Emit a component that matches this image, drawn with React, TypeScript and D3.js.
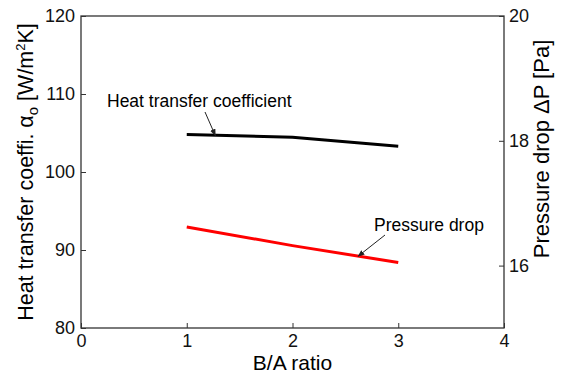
import React, { useRef, useEffect } from "react";
import * as d3 from "d3";

const ratios = [1, 2, 3];
const heatCoeff = [104.8, 104.45, 103.3];
const pressureDrop = [16.62, 16.32, 16.05];
const xTicks = [0, 1, 2, 3, 4];
const leftTicks = [80, 90, 100, 110, 120];
const rightTicks = [16, 18, 20];

const App: React.FC = () => {
  const svg = useRef<SVGSVGElement>(null);
  const width = 566;
  const height = 376;
  const margin = { left: 81, top: 16, right: 62, bottom: 48 };

  useEffect(() => {
    const s = d3.select(svg.current);
    s.selectAll("*").remove();
    const font = "Liberation Sans, Arial, sans-serif";

    const x = d3.scaleLinear().domain([0, 4]).range([margin.left, width - margin.right]);
    const yL = d3.scaleLinear().domain([80, 120]).range([height - margin.bottom, margin.top]);
    const yR = d3.scaleLinear().domain([15, 20]).range([height - margin.bottom, margin.top]);

    const g = s.append("g");

    // frame
    g.append("rect")
      .attr("x", x(0))
      .attr("y", yL(120))
      .attr("width", x(4) - x(0))
      .attr("height", yL(80) - yL(120))
      .attr("fill", "none")
      .attr("stroke", "#333")
      .attr("stroke-width", 1.3);

    // bottom axis
    const xAxis = g.append("g").attr("transform", `translate(0,${yL(80)})`);
    xAxis.call(
      d3.axisBottom(x).tickValues(d3.range(0, 4.01, 0.5)).tickSize(-3).tickFormat(() => "")
    );
    xAxis.call(d3.axisBottom(x).tickValues(xTicks).tickSize(-5).tickPadding(6).tickFormat(d3.format("d")));

    // left axis
    const lAxis = g.append("g").attr("transform", `translate(${x(0)},0)`);
    lAxis.call(d3.axisLeft(yL).tickValues(d3.range(80, 121, 5)).tickSize(-3).tickFormat(() => ""));
    lAxis.call(d3.axisLeft(yL).tickValues(leftTicks).tickSize(-5).tickPadding(6).tickFormat(d3.format("d")));

    // right axis
    const rAxis = g.append("g").attr("transform", `translate(${x(4)},0)`);
    rAxis.call(d3.axisRight(yR).tickValues(d3.range(15, 20.01, 1)).tickSize(-3).tickFormat(() => ""));
    rAxis.call(d3.axisRight(yR).tickValues(rightTicks).tickSize(-5).tickPadding(5).tickFormat(d3.format("d")));

    g.selectAll(".domain").remove();
    g.selectAll(".tick line").attr("stroke", "#333");
    g.selectAll(".tick text")
      .attr("font-family", font)
      .attr("font-size", 18)
      .attr("fill", "#111");

    // lines
    const heatLine = d3
      .line<number>()
      .x((_, i) => x(ratios[i]))
      .y((d) => yL(d));
    const pressLine = d3
      .line<number>()
      .x((_, i) => x(ratios[i]))
      .y((d) => yR(d));

    g.append("path")
      .attr("d", heatLine(heatCoeff))
      .attr("fill", "none")
      .attr("stroke", "#000")
      .attr("stroke-width", 3);
    g.append("path")
      .attr("d", pressLine(pressureDrop))
      .attr("fill", "none")
      .attr("stroke", "#ff0000")
      .attr("stroke-width", 3);

    // arrows
    s.append("defs")
      .append("marker")
      .attr("id", "arr")
      .attr("viewBox", "0 0 10 10")
      .attr("refX", 9)
      .attr("refY", 5)
      .attr("markerWidth", 7)
      .attr("markerHeight", 7)
      .attr("orient", "auto")
      .append("path")
      .attr("d", "M0,1 L10,5 L0,9 Z")
      .attr("fill", "#222");

    g.append("line")
      .attr("x1", 205).attr("y1", 112)
      .attr("x2", x(1.27)).attr("y2", yL(104.68))
      .attr("stroke", "#222").attr("stroke-width", 1)
      .attr("marker-end", "url(#arr)");
    g.append("line")
      .attr("x1", 385).attr("y1", 235)
      .attr("x2", x(2.62)).attr("y2", yR(16.15))
      .attr("stroke", "#222").attr("stroke-width", 1)
      .attr("marker-end", "url(#arr)");

    g.append("text")
      .attr("x", 107).attr("y", 106.5)
      .attr("font-family", font).attr("font-size", 17.5)
      .text("Heat transfer coefficient");
    g.append("text")
      .attr("x", 374).attr("y", 231)
      .attr("font-family", font).attr("font-size", 17.5)
      .text("Pressure drop");

    // axis titles
    g.append("text")
      .attr("x", x(2)).attr("y", 370)
      .attr("text-anchor", "middle")
      .attr("font-family", font).attr("font-size", 21)
      .text("B/A ratio");

    const lt = g.append("text")
      .attr("transform", `translate(33,${yL(100)}) rotate(-90)`)
      .attr("text-anchor", "middle")
      .attr("font-family", font).attr("font-size", 21.5);
    lt.append("tspan").text("Heat transfer coeffi. \u03b1");
    lt.append("tspan").attr("dy", 5).attr("font-size", 15).text("o");
    lt.append("tspan").attr("dy", -5).text(" [W/m");
    lt.append("tspan").attr("dy", -8).attr("font-size", 13).text("2");
    lt.append("tspan").attr("dy", 8).text("K]");

    g.append("text")
      .attr("transform", `translate(549,149) rotate(-90)`)
      .attr("text-anchor", "middle")
      .attr("font-family", font).attr("font-size", 22)
      .text("Pressure drop \u0394P [Pa]");
  }, []);

  return (
    <svg ref={svg} width={width} height={height} style={{ position: "absolute", left: 0, top: 0 }}></svg>
  );
};

export default App;
